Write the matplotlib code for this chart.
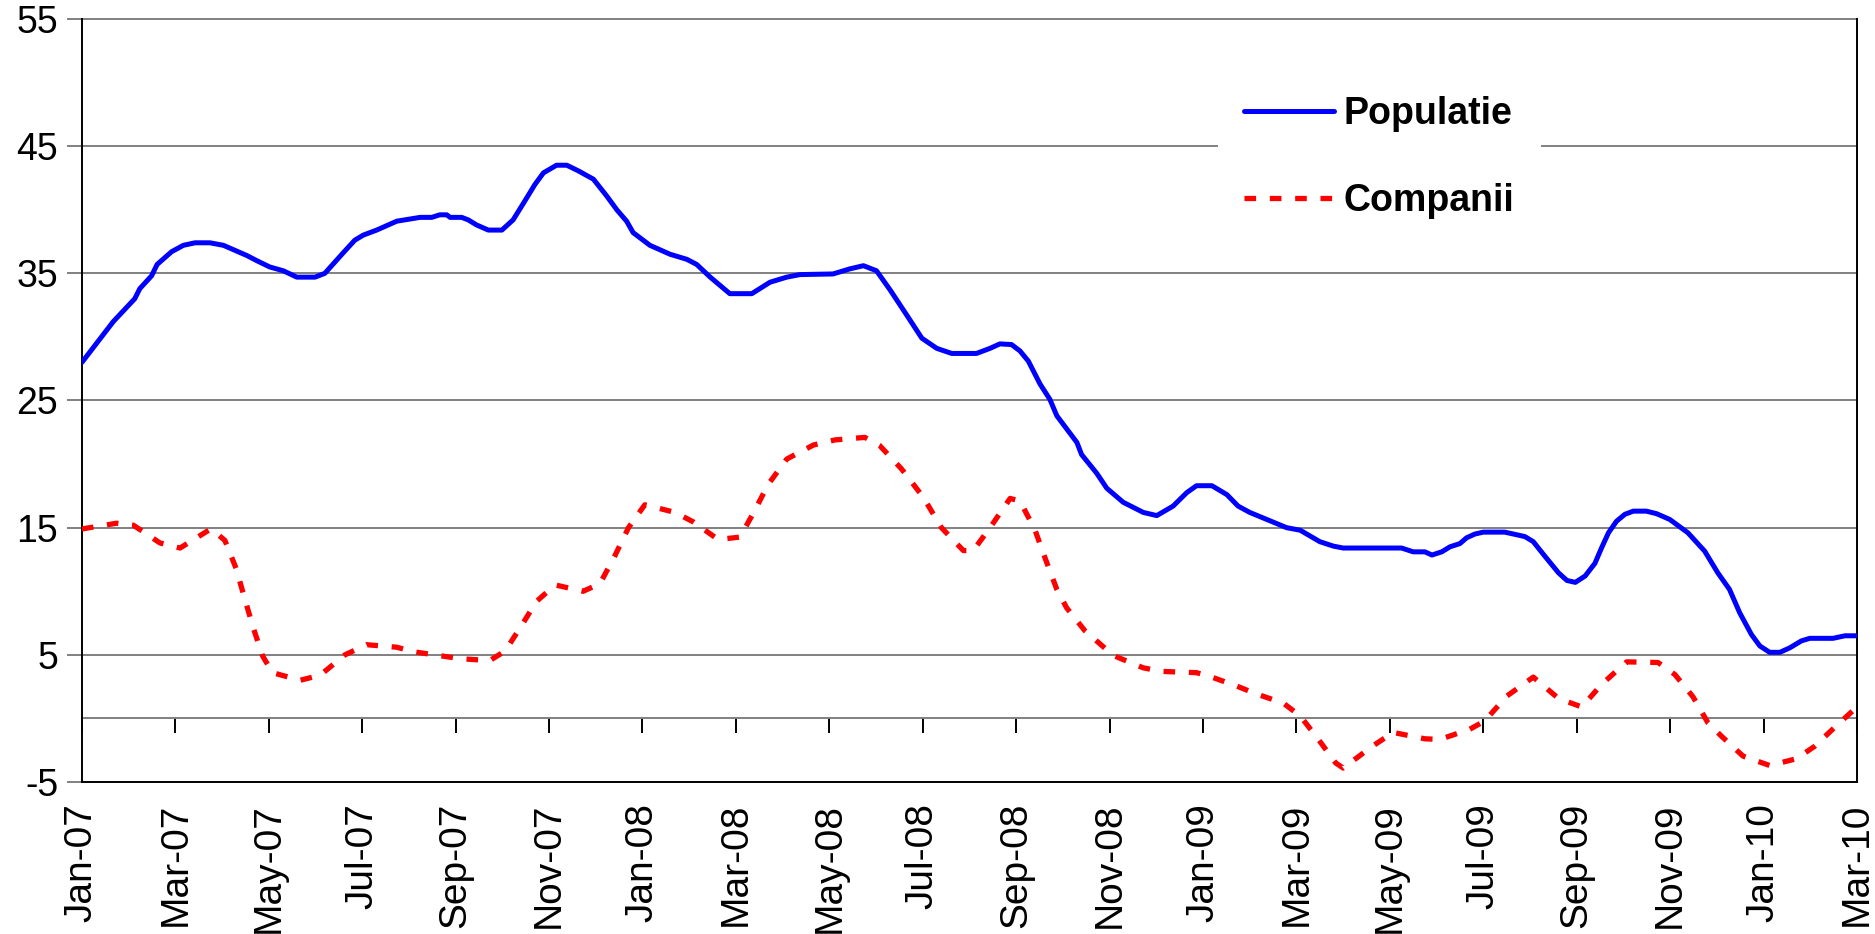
import matplotlib
matplotlib.use("Agg")
import matplotlib.pyplot as plt

plt.rcParams['font.family'] = ['Liberation Sans', 'DejaVu Sans']
plt.rcParams['axes.unicode_minus'] = False

# month index (0 = Jan-07, 38 = Mar-10)
pop_x = [0.0, 0.67, 1.13, 1.24, 1.49, 1.61, 1.92, 2.17, 2.42, 2.74, 3.03, 3.53, 3.74, 4.02,
         4.31, 4.60, 4.99, 5.20, 5.59, 5.84, 6.02, 6.31, 6.74, 7.24, 7.49, 7.66, 7.81, 7.88,
         8.13, 8.27, 8.45, 8.70, 8.99, 9.23, 9.45, 9.70, 9.88, 10.16, 10.38, 10.63, 10.95,
         11.23, 11.45, 11.66, 11.80, 12.16, 12.59, 12.95, 13.16, 13.45, 13.87, 14.34, 14.73,
         15.09, 15.37, 16.08, 16.44, 16.73, 17.01, 17.30, 17.66, 17.98, 18.30, 18.62, 19.15,
         19.44, 19.65, 19.90, 20.08, 20.26, 20.51, 20.72, 20.87, 21.30, 21.40, 21.72, 21.94,
         22.29, 22.72, 23.01, 23.36, 23.65, 23.86, 24.19, 24.51, 24.75, 25.00, 25.43, 25.79,
         26.08, 26.50, 26.79, 27.00, 28.25, 28.50, 28.75, 28.90, 29.11, 29.29, 29.50, 29.64,
         29.82, 30.00, 30.46, 30.71, 30.89, 31.07, 31.32, 31.61, 31.79, 31.97, 32.18, 32.39,
         32.53, 32.68, 32.85, 33.03, 33.21, 33.49, 33.71, 33.99, 34.38, 34.74, 35.02, 35.27,
         35.49, 35.74, 35.92, 36.13, 36.35, 36.56, 36.81, 36.99, 37.49, 37.74, 38.0]
pop_y = [28.0, 31.2, 33.0, 33.8, 34.8, 35.7, 36.7, 37.2, 37.4, 37.4, 37.2, 36.4, 36.0, 35.5,
         35.2, 34.7, 34.7, 35.0, 36.6, 37.6, 38.0, 38.4, 39.1, 39.4, 39.4, 39.6, 39.6, 39.4,
         39.4, 39.2, 38.8, 38.4, 38.4, 39.2, 40.5, 42.0, 42.9, 43.5, 43.5, 43.05, 42.4,
         41.1, 40.0, 39.1, 38.2, 37.2, 36.5, 36.1, 35.7, 34.7, 33.4, 33.4, 34.3,
         34.7, 34.9, 34.95, 35.35, 35.6, 35.2, 33.7, 31.7, 29.9, 29.1, 28.7, 28.7,
         29.1, 29.45, 29.4, 28.9, 28.1, 26.3, 25.1, 23.8, 21.7, 20.75, 19.3, 18.1,
         17.0, 16.2, 15.95, 16.7, 17.75, 18.3, 18.3, 17.6, 16.7, 16.2, 15.55, 15.0,
         14.8, 13.9, 13.55, 13.4, 13.4, 13.1, 13.1, 12.85, 13.1, 13.5, 13.75, 14.2,
         14.5, 14.65, 14.65, 14.45, 14.3, 13.9, 12.75, 11.45, 10.85, 10.7, 11.2, 12.2,
         13.4, 14.6, 15.5, 16.05, 16.3, 16.3, 16.1, 15.65, 14.6, 13.15, 11.45, 10.15,
         8.3, 6.6, 5.7, 5.2, 5.2, 5.55, 6.1, 6.3, 6.3, 6.5, 6.5]

comp_x = [0.0, 0.74, 1.10, 1.67, 2.10, 2.67, 2.77, 3.06, 3.30, 3.49, 3.67, 3.87, 4.08, 4.67,
          5.10, 5.63, 6.09, 6.74, 7.09, 7.73, 8.09, 8.73, 9.06, 9.41, 9.73, 10.13, 10.73,
          11.09, 11.41, 11.70, 12.05, 12.70, 13.09, 13.62, 14.09, 14.41, 14.69, 15.09, 15.66,
          16.12, 16.76, 17.08, 17.55, 18.01, 18.40, 18.87, 19.08, 19.44, 19.87, 20.08, 20.40,
          20.62, 20.87, 21.08, 21.47, 22.08, 22.72, 23.11, 23.86, 24.15, 24.72, 25.11, 25.72,
          26.08, 26.47, 26.84, 27.00, 27.62, 28.07, 28.75, 29.07, 29.71, 30.03, 30.50, 31.07,
          31.61, 32.11, 32.53, 33.07, 33.74, 34.10, 34.49, 34.81, 35.10, 35.56, 36.13, 36.70,
          37.09, 37.55, 38.0]
comp_y = [14.9, 15.35, 15.2, 13.8, 13.4, 14.7, 14.9, 14.0, 11.8, 9.35, 7.1, 4.9, 3.6, 3.0,
          3.4, 5.0, 5.8, 5.6, 5.25, 4.9, 4.7, 4.55, 5.3, 7.3, 9.2, 10.5, 10.0,
          10.6, 12.8, 15.0, 16.8, 16.2, 15.45, 14.07, 14.26, 16.4, 18.4, 20.4, 21.5,
          21.9, 22.1, 21.45, 19.6, 17.4, 15.0, 13.2, 13.2, 15.0, 17.3, 17.1, 14.85,
          12.6, 10.15, 8.7, 6.9, 4.95, 3.98, 3.7, 3.6, 3.3, 2.55, 1.97, 1.2,
          0.2, -1.65, -3.5, -3.9, -2.2, -1.1, -1.6, -1.65, -0.85, -0.2, 1.75, 3.25,
          1.57, 0.9, 2.67, 4.45, 4.4, 3.46, 1.7, -0.35, -1.4, -2.96, -3.7, -3.17,
          -2.2, -0.6, 0.9]

tick_labels = ['Jan-07', 'Mar-07', 'May-07', 'Jul-07', 'Sep-07', 'Nov-07',
               'Jan-08', 'Mar-08', 'May-08', 'Jul-08', 'Sep-08', 'Nov-08',
               'Jan-09', 'Mar-09', 'May-09', 'Jul-09', 'Sep-09', 'Nov-09',
               'Jan-10', 'Mar-10']
tick_pos = list(range(0, 39, 2))
y_ticks = [-5, 5, 15, 25, 35, 45, 55]

fig = plt.figure(figsize=(18.75, 9.34), dpi=100)
ax = fig.add_axes([0.0437, 0.1627, 0.9467, 0.817])

for v in [5, 15, 25, 35, 45, 55]:
    ax.axhline(v, color='#808080', lw=1.4, zorder=1, clip_on=False)
ax.axhline(0, color='#808080', lw=1.4, zorder=1)

ax.plot(pop_x, pop_y, color='#0000FF', lw=3.6, label='Populatie', zorder=3,
        solid_capstyle='round', solid_joinstyle='round')
ax.plot(comp_x, comp_y, color='#FF0000', lw=3.8, dashes=(2.2, 2.6), label='Companii',
        zorder=3)

ax.set_xlim(0, 38)
ax.set_ylim(-5, 55)
ax.set_yticks(y_ticks)
ax.set_xticks(tick_pos)
ax.set_xticklabels(tick_labels, rotation=90, fontsize=28)
ax.tick_params(axis='x', length=0, pad=15)
ax.tick_params(axis='y', length=11, width=1.4, color='#808080', labelsize=27, pad=6)

ax.spines['top'].set_visible(False)
for s in ['left', 'right', 'bottom']:
    ax.spines[s].set_color('black')
    ax.spines[s].set_linewidth(1.4)

# tick marks hanging from the zero line
sec = ax.secondary_xaxis(5 / 60.0)
sec.set_xticks(tick_pos)
sec.set_xticklabels([])
sec.tick_params(axis='x', direction='out', length=11, width=1.4, color='black')
sec.spines['bottom'].set_visible(False)

leg = ax.legend(loc='upper left', bbox_to_anchor=(0.6496, 0.925),
                bbox_transform=fig.transFigure, frameon=True, fancybox=False,
                edgecolor='none', facecolor='white', framealpha=1,
                prop={'size': 27, 'weight': 'bold'}, handlelength=2.4,
                handletextpad=0.25, labelspacing=1.35, borderpad=0.7, borderaxespad=0)
leg.set_zorder(2)

fig.savefig('out.png', dpi=100)
